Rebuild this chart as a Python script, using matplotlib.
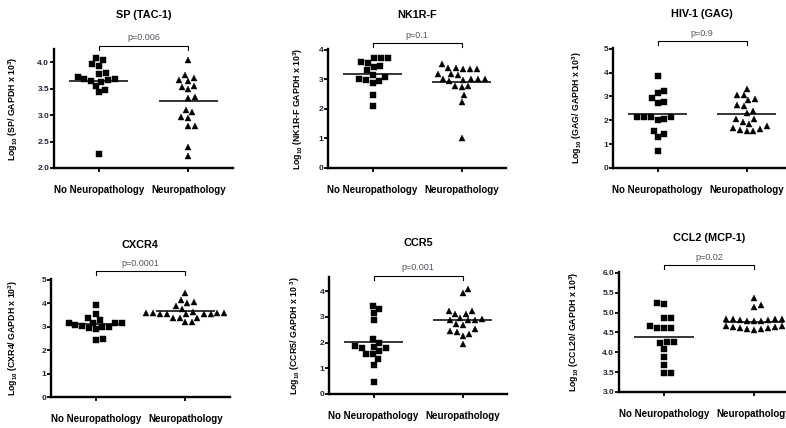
import numpy as np
import matplotlib
matplotlib.use("Agg")
import matplotlib.pyplot as plt
import matplotlib.transforms as mtransforms

plt.rcParams['font.family'] = ['Liberation Sans', 'DejaVu Sans']
plt.rcParams['mathtext.default'] = 'regular'

groups = ["No Neuropathology", "Neuropathology"]

titles = ["SP (TAC-1)", "NK1R-F", "HIV-1 (GAG)", "CXCR4", "CCR5", "CCL2 (MCP-1)"]
ylabels = [
    r"Log$_{10}$ (SP/ GAPDH x 10$^{3}$)",
    r"Log$_{10}$ (NK1R-F GAPDH x 10$^{3}$)",
    r"Log$_{10}$ (GAG/ GAPDH x 10$^{3}$)",
    r"Log$_{10}$ (CXR4/ GAPDH x 10$^{3}$)",
    r"Log$_{10}$ (CCR5/ GAPDH x 10 $^{3}$)",
    r"Log$_{10}$ (CCL20/ GAPDH x 10$^{3}$)",
]
p_values = ["0.006", "0.1", "0.9", "0.0001", "0.001", "0.02"]

# values (log10 expression)
sp_no = [4.08, 4.04, 3.96, 3.93, 3.79, 3.77, 3.72, 3.69, 3.68, 3.66, 3.65, 3.63, 3.55, 3.48, 3.43, 2.27]
sp_neuro = [4.04, 3.76, 3.71, 3.66, 3.64, 3.55, 3.54, 3.49, 3.35, 3.33, 3.10, 3.05, 2.96, 2.94, 2.80, 2.80, 2.39, 2.22]
sp_lines = [3.64, 3.26]

nk_no = [3.73, 3.72, 3.71, 3.59, 3.57, 3.45, 3.42, 3.31, 3.15, 3.09, 3.00, 2.98, 2.96, 2.87, 2.48, 2.09]
nk_neuro = [3.51, 3.39, 3.39, 3.34, 3.34, 3.34, 3.18, 3.18, 3.15, 3.00, 3.00, 3.00, 2.98, 3.00, 2.94,
            2.78, 2.75, 2.78, 2.47, 2.25, 1.01]
nk_lines = [3.17, 2.92]

gag_no = [3.87, 3.21, 3.16, 2.92, 2.75, 2.74, 2.15, 2.15, 2.15, 2.15, 2.06, 2.03, 1.55, 1.41, 1.30, 0.71]
gag_neuro = [3.33, 3.08, 3.08, 2.88, 2.85, 2.64, 2.60, 2.39, 2.32, 2.04, 2.04, 1.94, 1.83, 1.76, 1.69,
             1.63, 1.60, 1.56, 1.56]
gag_lines = [2.26, 2.26]

cxcr4_no = [3.92, 3.52, 3.38, 3.28, 3.17, 3.17, 3.15, 3.14, 3.06, 3.04, 2.99, 2.99, 2.92, 2.89, 2.46, 2.42]
cxcr4_neuro = [4.45, 4.13, 4.06, 3.99, 3.87, 3.77, 3.63, 3.59, 3.59, 3.59, 3.59, 3.52, 3.52, 3.52, 3.52,
               3.52, 3.38, 3.38, 3.38, 3.18, 3.18]
cxcr4_lines = [3.11, 3.66]

ccr5_no = [3.42, 3.31, 3.14, 2.86, 2.12, 1.99, 1.88, 1.84, 1.78, 1.78, 1.66, 1.56, 1.56, 1.36, 1.14, 0.45]
ccr5_neuro = [4.10, 3.94, 3.23, 3.23, 3.12, 3.12, 2.94, 2.90, 2.86, 2.86, 2.86, 2.71, 2.68, 2.52, 2.45,
              2.43, 2.35, 2.26, 1.96]
ccr5_lines = [2.01, 2.87]

ccl2_no = [5.23, 5.21, 4.85, 4.85, 4.65, 4.61, 4.61, 4.61, 4.25, 4.25, 4.23, 4.08, 3.88, 3.69, 3.48, 3.48]
ccl2_neuro = [5.36, 5.19, 5.15, 4.84, 4.83, 4.81, 4.79, 4.78, 4.79, 4.81, 4.83, 4.84, 4.66, 4.63, 4.60,
              4.58, 4.57, 4.58, 4.60, 4.63, 4.66]
ccl2_lines = [4.38, 4.77]

data = [(sp_no, sp_neuro, sp_lines), (nk_no, nk_neuro, nk_lines), (gag_no, gag_neuro, gag_lines),
        (cxcr4_no, cxcr4_neuro, cxcr4_lines), (ccr5_no, ccr5_neuro, ccr5_lines),
        (ccl2_no, ccl2_neuro, ccl2_lines)]

# layout: axes box in px (left, top, right, bottom), ylim, yticks, tick fmt, ylabel offset, bracket offset
layout = [
    ((54, 49, 233, 168), (2.0, 4.25), [2.0, 2.5, 3.0, 3.5, 4.0], "{:.1f}", 34, 3),
    ((328, 49, 506, 168), (0, 4.03), [0, 1, 2, 3, 4], "{:.0f}", 23, 6),
    ((613, 48, 791, 168), (0, 5.03), [0, 1, 2, 3, 4, 5], "{:.0f}", 29, 7),
    ((51, 279, 230, 397), (0, 5.03), [0, 1, 2, 3, 4, 5], "{:.0f}", 31, 8),
    ((329, 277, 507, 394), (0, 4.55), [0, 1, 2, 3, 4], "{:.0f}", 27, 1),
    ((619, 272, 799, 392), (3.0, 6.02), [3.0, 3.5, 4.0, 4.5, 5.0, 5.5, 6.0], "{:.1f}", 38, 7),
]

W, H = 786, 428


def swarm(vals, ppu_x, ppu_y, d):
    # simple beeswarm: put each point as close to the centre as it can go
    vals = np.asarray(vals, float)
    xs = np.zeros(len(vals))
    placed = []
    side = 1
    for i in np.argsort(vals):
        y = vals[i] * ppu_y
        cands = [0.0]
        for xj, yj in placed:
            dy = y - yj
            if abs(dy) < d:
                dx = np.sqrt(d * d - dy * dy)
                cands += [xj + dx, xj - dx]
        cands.sort(key=lambda c: (round(abs(c), 6), -side * c))
        for c in cands:
            if all((c - xj) ** 2 + (y - yj) ** 2 >= d * d - 1e-6 for xj, yj in placed):
                xs[i] = c
                break
        if xs[i] != 0:
            side = -np.sign(xs[i])
        placed.append((xs[i], y))
    return xs / ppu_x


fig = plt.figure(figsize=(W / 100, H / 100), dpi=100)

for i, (box, ylim, yticks, fmt, lab_off, br_off) in enumerate(layout):
    l, t, r, b = box
    w, h = r - l, b - t
    ax = fig.add_axes([l / W, 1 - b / H, w / W, h / H])
    ax.set_xlim(-0.5, 1.5)
    ax.set_ylim(ylim)
    ppu_x = w / 2
    ppu_y = h / (ylim[1] - ylim[0])

    no, neuro, lines = data[i]
    for k, (vals, mk, ms) in enumerate([(no, 's', 4.7), (neuro, '^', 5.0)]):
        xs = k + swarm(vals, ppu_x, ppu_y, 7.0)
        ax.plot(xs, vals, ls='none', marker=mk, ms=ms, color='black', mec='black', mew=0.3)
        ax.hlines(lines[k], k - 0.33, k + 0.33, color='black', lw=1.1)

    for s in ['top', 'right']:
        ax.spines[s].set_visible(False)
    for s in ['left', 'bottom']:
        ax.spines[s].set_linewidth(1.7)

    ax.set_xticks([0, 1])
    ax.set_xticklabels(groups, fontweight='bold', fontsize=7)
    ax.tick_params(axis='x', length=3, width=1.3, pad=9)
    ax.set_yticks(yticks)
    ax.set_yticklabels([fmt.format(v) for v in yticks], fontweight='bold', fontsize=6, color='#222233')
    ax.tick_params(axis='y', length=3, width=1.3, pad=0.5)

    ax.set_ylabel(ylabels[i], fontweight='bold', fontsize=6.3)
    ax.yaxis.set_label_coords(-lab_off / w, 0.5)

    ax.text(0.5, 1 + 34 / h, titles[i], transform=ax.transAxes, ha='center', va='center',
            fontweight='bold', fontsize=7.8)

    trans = mtransforms.blended_transform_factory(ax.transData, ax.transAxes)
    yb = 1 + br_off / h
    leg = 4 / h
    ax.plot([0, 0, 1, 1], [yb - leg, yb, yb, yb - leg], transform=trans, color='black',
            lw=0.8, clip_on=False)
    ax.text(0.5, yb + 8 / h, "p=" + p_values[i], transform=trans, ha='center', va='center',
            fontsize=6.5, color='#555560')

fig.savefig("out.png", dpi=100)
